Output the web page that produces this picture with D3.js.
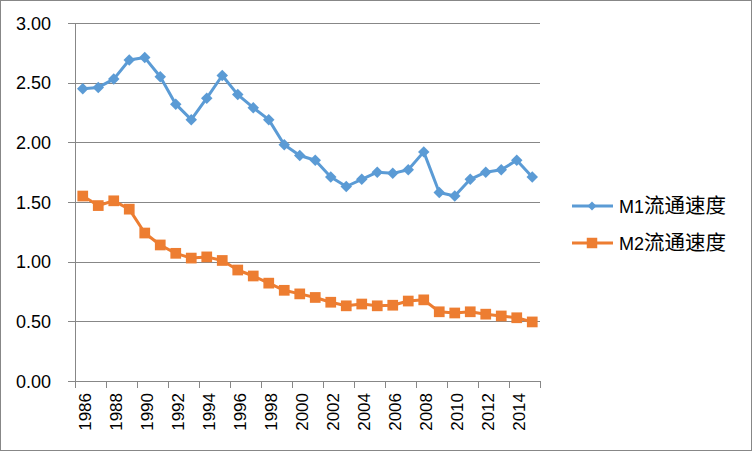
<!DOCTYPE html>
<html>
<head>
<meta charset="utf-8">
<script src="https://cdn.jsdelivr.net/npm/d3@7"></script>
<style>
  body { margin: 0; background: #fff; }
  svg text { font-family: "Liberation Sans", Arial, sans-serif; fill: #000; }
</style>
</head>
<body>
<div id="chart"></div>
<script>
var years = [];
for (var yr = 1986; yr <= 2015; yr++) years.push(yr);

var m1 = [2.45, 2.46, 2.53, 2.69, 2.71, 2.55, 2.32, 2.19, 2.37, 2.56,
  2.40, 2.29, 2.19, 1.98, 1.89, 1.85, 1.71, 1.63, 1.69, 1.75,
  1.74, 1.77, 1.92, 1.58, 1.55, 1.69, 1.75, 1.77, 1.85, 1.71];
var m2 = [1.55, 1.47, 1.51, 1.44, 1.24, 1.14, 1.07, 1.03, 1.04, 1.01,
  0.93, 0.88, 0.82, 0.76, 0.73, 0.70, 0.66, 0.63, 0.645, 0.63,
  0.635, 0.67, 0.68, 0.58, 0.57, 0.58, 0.56, 0.545, 0.53, 0.495];
var seriesCodes = ["M1", "M2"];
var seriesLabel = "流通速度";
var yTicks = [0, 0.5, 1, 1.5, 2, 2.5, 3];

var W = 752, H = 451;
var plotLeft = 75, plotRight = 540, plotTop = 23, plotBottom = 381;

var svg = d3.select("#chart").append("svg").attr("width", W).attr("height", H);

svg.append("rect")
  .attr("x", 0.5).attr("y", 0.5)
  .attr("width", W - 1).attr("height", H - 1)
  .attr("fill", "#fff").attr("stroke", "#878787");

var x = d3.scaleBand().domain(years).range([plotLeft, plotRight]);
var yScale = d3.scaleLinear().domain([0, 3]).range([plotBottom, plotTop]);

// gridlines
svg.selectAll("line.grid")
  .data(yTicks)
  .enter()
  .append("line")
  .attr("class", "grid")
  .attr("x1", plotLeft - 7)
  .attr("x2", plotRight)
  .attr("y1", function (d) { return Math.round(yScale(d)) + 0.5; })
  .attr("y2", function (d) { return Math.round(yScale(d)) + 0.5; })
  .attr("stroke", "#878787")
  .attr("stroke-width", 1);

svg.selectAll("text.ylab")
  .data(yTicks)
  .enter()
  .append("text")
  .attr("class", "ylab")
  .attr("x", 51)
  .attr("y", function (d) { return yScale(d) + 6.5; })
  .attr("text-anchor", "end")
  .style("font-size", "18px")
  .text(function (d) { return d3.format(".2f")(d); });

// y axis line
svg.append("line")
  .attr("x1", plotLeft + 0.5).attr("x2", plotLeft + 0.5)
  .attr("y1", plotTop).attr("y2", plotBottom + 7)
  .attr("stroke", "#878787");

// x ticks every 2 categories
var tickYears = years.filter(function (d, i) { return i % 2 === 0; });
svg.selectAll("line.xtick")
  .data(tickYears.concat([2016]))
  .enter()
  .append("line")
  .attr("class", "xtick")
  .attr("x1", function (d) { return Math.round(d === 2016 ? plotRight : x(d)) + 0.5; })
  .attr("x2", function (d) { return Math.round(d === 2016 ? plotRight : x(d)) + 0.5; })
  .attr("y1", plotBottom)
  .attr("y2", plotBottom + 7)
  .attr("stroke", "#878787");

svg.selectAll("text.xlab")
  .data(tickYears)
  .enter()
  .append("text")
  .attr("class", "xlab")
  .attr("transform", function (d) {
    return "translate(" + (x(d) + x.bandwidth() / 2 + 8.5) + "," + 393 + ") rotate(-90)";
  })
  .attr("text-anchor", "end")
  .style("font-size", "17px")
  .text(function (d) { return d; });

var colors = ["#5B9BD5", "#ED7D31"];
var data = [m1, m2];

var line = d3.line()
  .x(function (d, i) { return x(years[i]) + x.bandwidth() / 2; })
  .y(function (d) { return yScale(d); });

data.forEach(function (vals, s) {
  svg.append("path")
    .datum(vals)
    .attr("d", line)
    .attr("fill", "none")
    .attr("stroke", colors[s])
    .attr("stroke-width", 3)
    .attr("stroke-linejoin", "round");

  svg.selectAll("path.mk" + s)
    .data(vals)
    .enter()
    .append("path")
    .attr("class", "mk" + s)
    .attr("d", s === 0
      ? d3.symbol().type(d3.symbolSquare).size(66)
      : d3.symbol().type(d3.symbolSquare).size(115))
    .attr("transform", function (d, i) {
      return "translate(" + (x(years[i]) + x.bandwidth() / 2) + "," + yScale(d) + ")" + (s === 0 ? " rotate(45)" : "");
    })
    .attr("fill", colors[s]);
});

// legend
var legY = [206, 243];
seriesCodes.forEach(function (code, s) {
  var g = svg.append("g");
  g.append("line")
    .attr("x1", 572).attr("x2", 613)
    .attr("y1", legY[s]).attr("y2", legY[s])
    .attr("stroke", colors[s]).attr("stroke-width", 3);
  g.append("path")
    .attr("d", d3.symbol().type(d3.symbolSquare).size(s === 0 ? 40 : 110))
    .attr("transform", "translate(592," + legY[s] + ")" + (s === 0 ? " rotate(45)" : ""))
    .attr("fill", colors[s]);
  var t = g.append("text")
    .attr("x", 619)
    .attr("y", legY[s] + 7);
  t.append("tspan")
    .style("font-size", "18px")
    .text(code);
  t.append("tspan")
    .style("font-size", "20.5px")
    .style("font-family", "'Noto Sans CJK SC', sans-serif")
    .text(seriesLabel);
});
</script>
</body>
</html>
